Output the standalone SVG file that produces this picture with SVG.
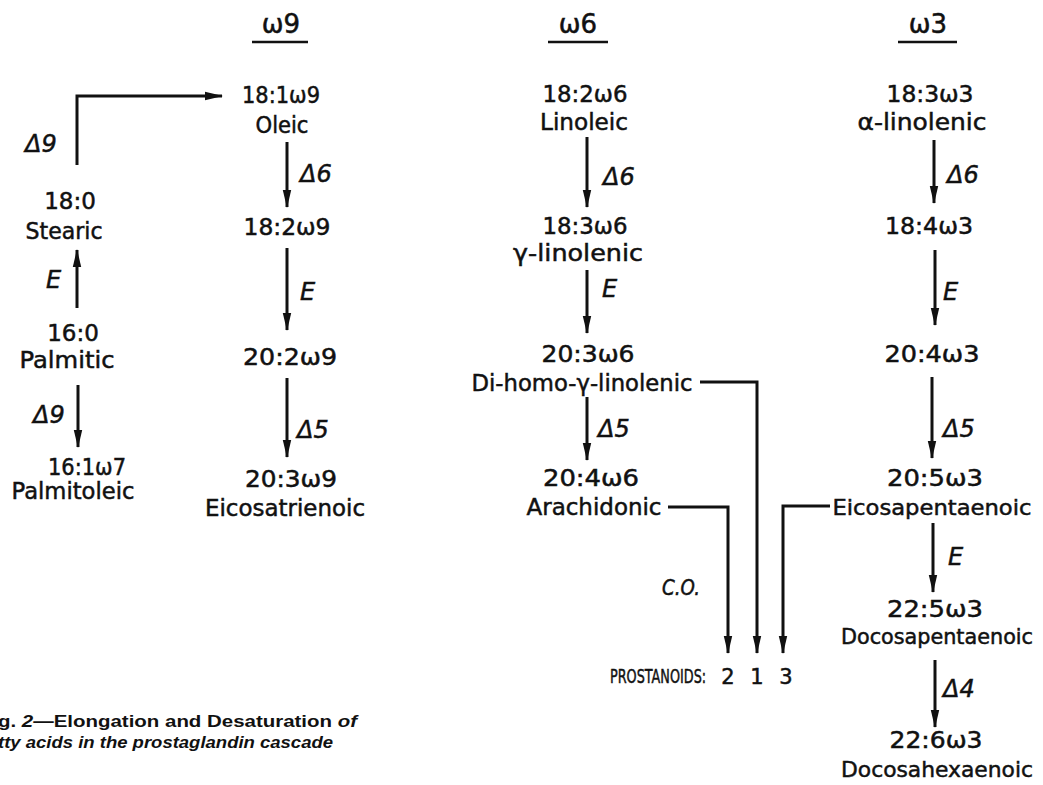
<svg xmlns="http://www.w3.org/2000/svg" width="1043" height="785" viewBox="0 0 1043 785">
<style>
.t{font-family:"DejaVu Sans","Liberation Sans",sans-serif;font-size:23px;fill:#111;stroke:#111;stroke-width:0.5;text-anchor:middle}
.h{font-family:"DejaVu Sans","Liberation Sans",sans-serif;font-size:26px;fill:#111;stroke:#111;stroke-width:0.5;text-anchor:middle}
.l{font-family:"DejaVu Sans","Liberation Sans",sans-serif;font-size:24px;font-style:italic;fill:#111;stroke:#111;stroke-width:0.5}
.c{stroke:#111;stroke-width:3;fill:none}
.u{stroke:#111;stroke-width:2.5}
.cap{font-family:"Liberation Sans",Arial,sans-serif;font-size:17px;font-weight:bold;fill:#111}
</style>
<defs>
<marker id="ah" viewBox="0 0 18 10" refX="17" refY="5" markerWidth="18" markerHeight="10" markerUnits="userSpaceOnUse" orient="auto">
<path d="M0,0.8 L18,5 L0,9.2 Z" fill="#111"/>
</marker>
</defs>
<rect width="1043" height="785" fill="#fff"/>

<g id="headers">
<text class="h" x="281" y="33">ω9</text><line class="u" x1="252" y1="42" x2="308" y2="42"/>
<text class="h" x="578" y="33">ω6</text><line class="u" x1="548" y1="42" x2="608" y2="42"/>
<text class="h" x="928" y="33">ω3</text><line class="u" x1="898" y1="42" x2="957" y2="42"/>
</g>

<g id="n18_0"><text class="t" x="70" y="209">18:0</text><text class="t" x="64" y="239" textLength="77" lengthAdjust="spacingAndGlyphs">Stearic</text></g>
<g id="n16_0"><text class="t" x="73" y="341">16:0</text><text class="t" x="67" y="368" textLength="95" lengthAdjust="spacingAndGlyphs">Palmitic</text></g>
<g id="n16_1w7"><text class="t" x="87" y="475" textLength="78" lengthAdjust="spacingAndGlyphs">16:1ω7</text><text class="t" x="73" y="499" textLength="123" lengthAdjust="spacingAndGlyphs">Palmitoleic</text></g>

<g id="n18_1w9"><text class="t" x="281" y="103" textLength="78" lengthAdjust="spacingAndGlyphs">18:1ω9</text><text class="t" x="282" y="133" textLength="53" lengthAdjust="spacingAndGlyphs">Oleic</text></g>
<g id="n18_2w9"><text class="t" x="287" y="235" textLength="87" lengthAdjust="spacingAndGlyphs">18:2ω9</text></g>
<g id="n20_2w9"><text class="t" x="290" y="365" textLength="94" lengthAdjust="spacingAndGlyphs">20:2ω9</text></g>
<g id="n20_3w9"><text class="t" x="291" y="487" textLength="92" lengthAdjust="spacingAndGlyphs">20:3ω9</text><text class="t" x="285" y="516" textLength="160" lengthAdjust="spacingAndGlyphs">Eicosatrienoic</text></g>

<g id="n18_2w6"><text class="t" x="585" y="102" textLength="85" lengthAdjust="spacingAndGlyphs">18:2ω6</text><text class="t" x="584" y="130" textLength="88" lengthAdjust="spacingAndGlyphs">Linoleic</text></g>
<g id="n18_3w6"><text class="t" x="585" y="234" textLength="85" lengthAdjust="spacingAndGlyphs">18:3ω6</text><text class="t" x="578" y="261" textLength="130" lengthAdjust="spacingAndGlyphs">γ-linolenic</text></g>
<g id="n20_3w6"><text class="t" x="588" y="362" textLength="93" lengthAdjust="spacingAndGlyphs">20:3ω6</text><text class="t" x="582" y="391" textLength="221" lengthAdjust="spacingAndGlyphs">Di-homo-γ-linolenic</text></g>
<g id="n20_4w6"><text class="t" x="591" y="486" textLength="96" lengthAdjust="spacingAndGlyphs">20:4ω6</text><text class="t" x="594" y="515" textLength="135" lengthAdjust="spacingAndGlyphs">Arachidonic</text></g>

<g id="n18_3w3"><text class="t" x="930" y="102" textLength="87" lengthAdjust="spacingAndGlyphs">18:3ω3</text><text class="t" x="922" y="130" textLength="129" lengthAdjust="spacingAndGlyphs">α-linolenic</text></g>
<g id="n18_4w3"><text class="t" x="929" y="234" textLength="88" lengthAdjust="spacingAndGlyphs">18:4ω3</text></g>
<g id="n20_4w3"><text class="t" x="932" y="362" textLength="95" lengthAdjust="spacingAndGlyphs">20:4ω3</text></g>
<g id="n20_5w3"><text class="t" x="935" y="486" textLength="96" lengthAdjust="spacingAndGlyphs">20:5ω3</text><text class="t" x="932" y="515" style="font-size:22px" textLength="199" lengthAdjust="spacingAndGlyphs">Eicosapentaenoic</text></g>
<g id="n22_5w3"><text class="t" x="935" y="617" textLength="96" lengthAdjust="spacingAndGlyphs">22:5ω3</text><text class="t" x="937" y="644" style="font-size:21px" textLength="192" lengthAdjust="spacingAndGlyphs">Docosapentaenoic</text></g>
<g id="n22_6w3"><text class="t" x="936" y="748" textLength="93" lengthAdjust="spacingAndGlyphs">22:6ω3</text><text class="t" x="937" y="777" style="font-size:22px" textLength="192" lengthAdjust="spacingAndGlyphs">Docosahexaenoic</text></g>

<g id="prostanoids">
<text class="t" style="font-size:20px;text-anchor:start" transform="translate(610,683) scale(0.64,1)" x="0" y="0">PROSTANOIDS:</text>
<text class="t" style="font-size:21px" x="728" y="684">2</text>
<text class="t" style="font-size:21px" x="757" y="684">1</text>
<text class="t" style="font-size:21px" x="786" y="684">3</text>
</g>

<g id="connectors">
<path class="c" d="M77,165 V96 H222" marker-end="url(#ah)"/>
<path class="c" d="M77,308 V250" marker-end="url(#ah)"/>
<path class="c" d="M78,385 V447" marker-end="url(#ah)"/>
<path class="c" d="M287,142 V207" marker-end="url(#ah)"/>
<path class="c" d="M287,248 V330" marker-end="url(#ah)"/>
<path class="c" d="M287,378 V457" marker-end="url(#ah)"/>
<path class="c" d="M587,137 V207" marker-end="url(#ah)"/>
<path class="c" d="M587,270 V333" marker-end="url(#ah)"/>
<path class="c" d="M587,397 V460" marker-end="url(#ah)"/>
<path class="c" d="M668,507 H728 V653" marker-end="url(#ah)"/>
<path class="c" d="M700,382 H757 V653" marker-end="url(#ah)"/>
<path class="c" d="M830,506 H783 V653" marker-end="url(#ah)"/>
<path class="c" d="M934,140 V203" marker-end="url(#ah)"/>
<path class="c" d="M935,250 V325" marker-end="url(#ah)"/>
<path class="c" d="M932,377 V458" marker-end="url(#ah)"/>
<path class="c" d="M933,523 V592" marker-end="url(#ah)"/>
<path class="c" d="M935,660 V727" marker-end="url(#ah)"/>
</g>

<g id="labels">
<text class="l" x="25" y="152">Δ9</text>
<text class="l" x="46" y="288">E</text>
<text class="l" x="33" y="423">Δ9</text>
<text class="l" x="300" y="182">Δ6</text>
<text class="l" x="300" y="300">E</text>
<text class="l" x="297" y="438">Δ5</text>
<text class="l" x="603" y="185">Δ6</text>
<text class="l" x="602" y="297">E</text>
<text class="l" x="598" y="437">Δ5</text>
<text class="l" x="662" y="595" style="font-size:21px" textLength="38" lengthAdjust="spacingAndGlyphs">C.O.</text>
<text class="l" x="947" y="183">Δ6</text>
<text class="l" x="943" y="300">E</text>
<text class="l" x="943" y="437">Δ5</text>
<text class="l" x="948" y="565">E</text>
<text class="l" x="943" y="697">Δ4</text>
</g>

<g id="caption">
<text class="cap" x="-2" y="727" textLength="359" lengthAdjust="spacingAndGlyphs">g. <tspan font-style="italic">2</tspan>—Elongation and Desaturation <tspan font-style="italic">of</tspan></text>
<text class="cap" x="-2" y="748" font-style="italic" textLength="335" lengthAdjust="spacingAndGlyphs">tty acids in the prostaglandin cascade</text>
</g>
</svg>
